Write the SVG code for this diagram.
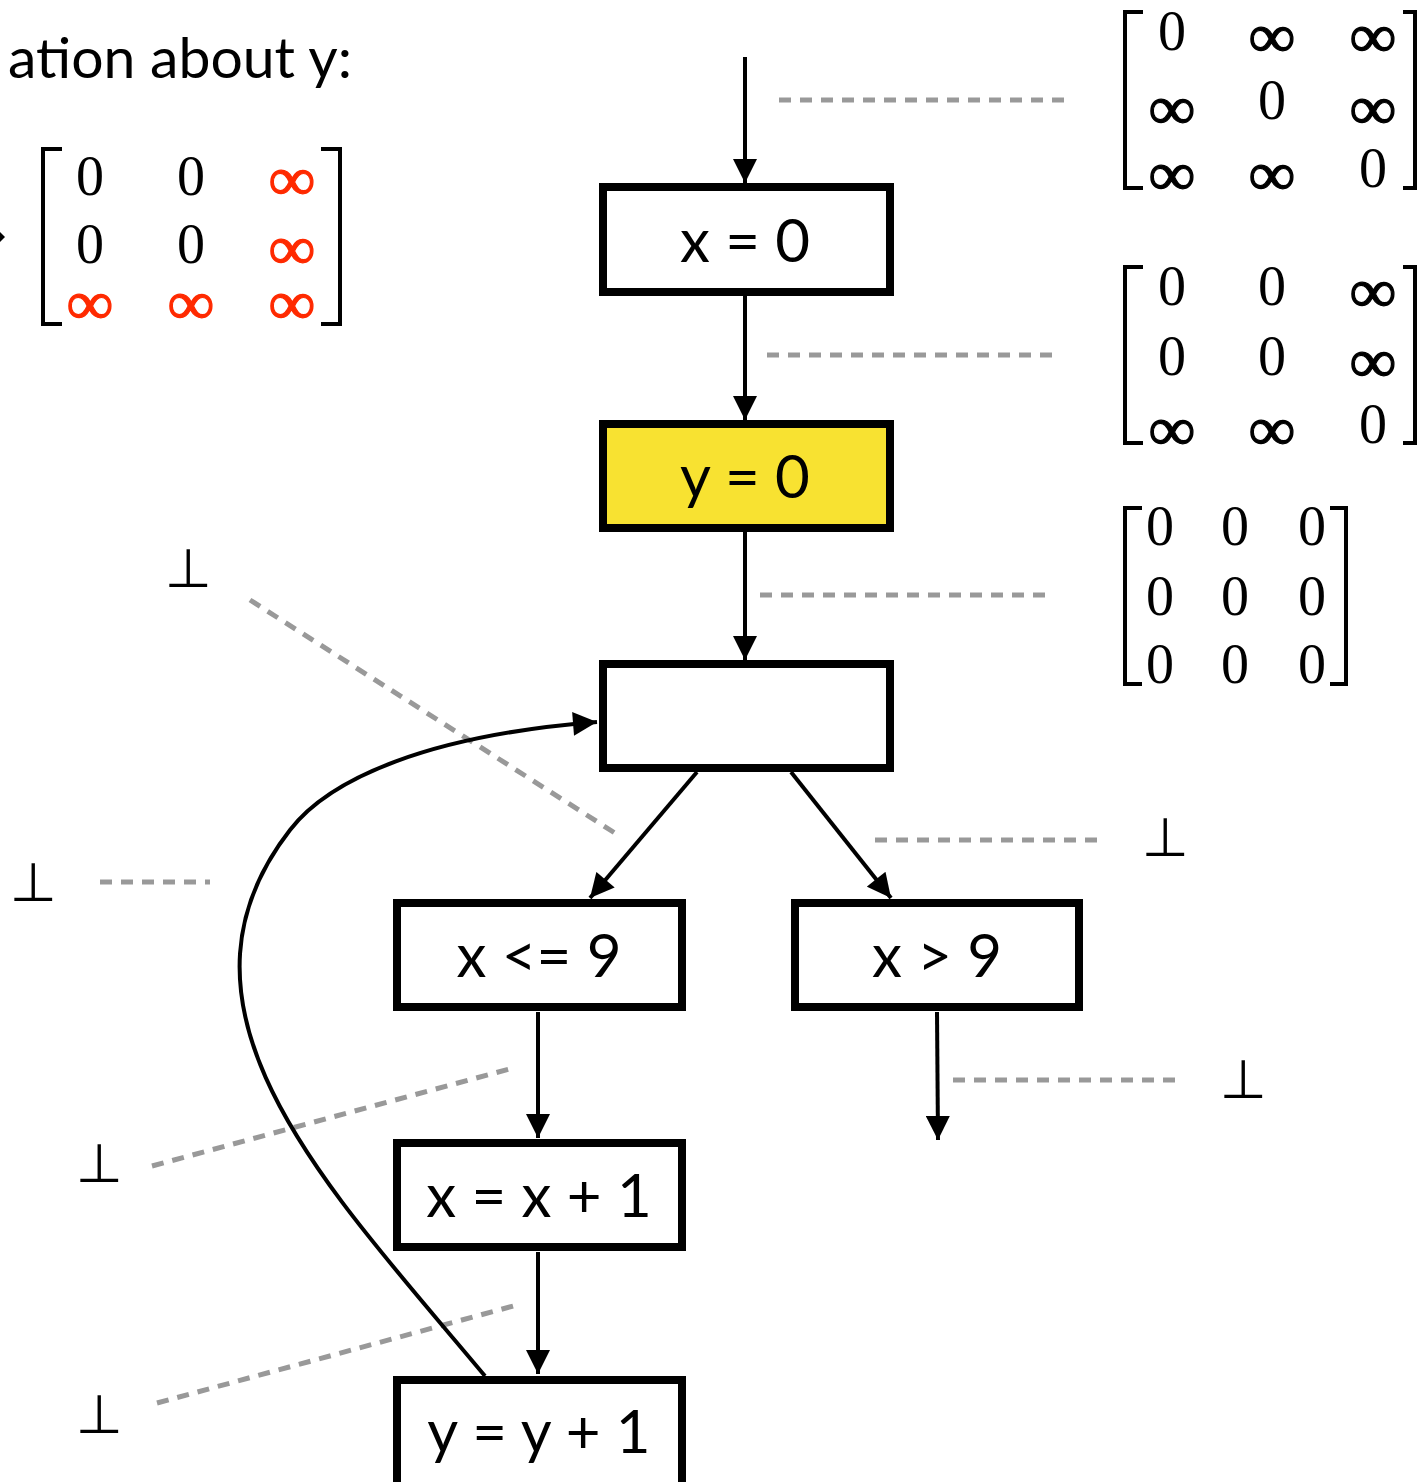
<svg xmlns="http://www.w3.org/2000/svg" width="1417" height="1482" viewBox="0 0 1417 1482">
<style>
.node{fill:#fff;stroke:#000;stroke-width:8}
.lbl{font-family:Lato,"Liberation Sans",sans-serif;font-size:60px;text-anchor:middle;fill:#000}
.edge{fill:none;stroke:#000;stroke-width:4}
.dash{fill:none;stroke:#999;stroke-width:5;stroke-dasharray:12 9}
.mx{font-family:"Liberation Serif","DejaVu Serif",serif;font-size:56px;text-anchor:middle;fill:#000}
.inf{font-family:"Liberation Serif","DejaVu Serif",serif;font-size:62px;text-anchor:middle;fill:#000;stroke:#000;stroke-width:1.2}
.red{fill:#FF2A00;stroke:#FF2A00}
.br{fill:none;stroke:#000;stroke-width:4}
.bot{font-family:"DejaVu Sans",sans-serif;font-size:54px;text-anchor:middle;fill:#000}
</style>
<defs>
<marker id="ah" viewBox="0 0 10 10" refX="10" refY="5" markerWidth="6.5" markerHeight="6" markerUnits="strokeWidth" orient="auto">
<path d="M0,0 L10,5 L0,10 z" fill="#000"/>
</marker>
</defs>

<text x="352" y="78" font-family="Lato,'Liberation Sans',sans-serif" font-size="56" text-anchor="end" textLength="344" lengthAdjust="spacingAndGlyphs">ation about y:</text>
<polygon points="0,232 5,237 0,242" fill="#000"/>

<g id="matrix-left">
<polyline class="br" points="62,149 43,149 43,324 62,324"/>
<polyline class="br" points="321,149 340,149 340,324 321,324"/>
<text class="mx" x="90" y="195">0</text>
<text class="mx" x="191" y="195">0</text>
<text class="inf red" x="292" y="200" textLength="47" lengthAdjust="spacingAndGlyphs">∞</text>
<text class="mx" x="90" y="263">0</text>
<text class="mx" x="191" y="263">0</text>
<text class="inf red" x="292" y="269" textLength="47" lengthAdjust="spacingAndGlyphs">∞</text>
<text class="inf red" x="90" y="324" textLength="47" lengthAdjust="spacingAndGlyphs">∞</text>
<text class="inf red" x="191" y="324" textLength="47" lengthAdjust="spacingAndGlyphs">∞</text>
<text class="inf red" x="292" y="324" textLength="47" lengthAdjust="spacingAndGlyphs">∞</text>
</g>

<g id="matrix-1">
<polyline class="br" points="1143,12 1125,12 1125,188 1143,188"/>
<polyline class="br" points="1403,12 1415,12 1415,188 1403,188"/>
<text class="mx" x="1172" y="50">0</text>
<text class="inf" x="1272" y="57" textLength="47" lengthAdjust="spacingAndGlyphs">∞</text>
<text class="inf" x="1373" y="57" textLength="47" lengthAdjust="spacingAndGlyphs">∞</text>
<text class="inf" x="1172" y="129" textLength="47" lengthAdjust="spacingAndGlyphs">∞</text>
<text class="mx" x="1272" y="119">0</text>
<text class="inf" x="1373" y="129" textLength="47" lengthAdjust="spacingAndGlyphs">∞</text>
<text class="inf" x="1172" y="195" textLength="47" lengthAdjust="spacingAndGlyphs">∞</text>
<text class="inf" x="1272" y="195" textLength="47" lengthAdjust="spacingAndGlyphs">∞</text>
<text class="mx" x="1373" y="187">0</text>
</g>

<g id="matrix-2">
<polyline class="br" points="1143,267 1125,267 1125,443 1143,443"/>
<polyline class="br" points="1403,267 1415,267 1415,443 1403,443"/>
<text class="mx" x="1172" y="305">0</text>
<text class="mx" x="1272" y="305">0</text>
<text class="inf" x="1373" y="312" textLength="47" lengthAdjust="spacingAndGlyphs">∞</text>
<text class="mx" x="1172" y="375">0</text>
<text class="mx" x="1272" y="375">0</text>
<text class="inf" x="1373" y="382" textLength="47" lengthAdjust="spacingAndGlyphs">∞</text>
<text class="inf" x="1172" y="450" textLength="47" lengthAdjust="spacingAndGlyphs">∞</text>
<text class="inf" x="1272" y="450" textLength="47" lengthAdjust="spacingAndGlyphs">∞</text>
<text class="mx" x="1373" y="443">0</text>
</g>

<g id="matrix-3">
<polyline class="br" points="1142,508 1125,508 1125,684 1142,684"/>
<polyline class="br" points="1330,508 1346,508 1346,684 1330,684"/>
<text class="mx" x="1160" y="545">0</text>
<text class="mx" x="1235" y="545">0</text>
<text class="mx" x="1312" y="545">0</text>
<text class="mx" x="1160" y="615">0</text>
<text class="mx" x="1235" y="615">0</text>
<text class="mx" x="1312" y="615">0</text>
<text class="mx" x="1160" y="683">0</text>
<text class="mx" x="1235" y="683">0</text>
<text class="mx" x="1312" y="683">0</text>
</g>

<g id="bottoms">
<text class="bot" x="188" y="587">⊥</text>
<text class="bot" x="33" y="901">⊥</text>
<text class="bot" x="1165" y="856">⊥</text>
<text class="bot" x="1243" y="1098">⊥</text>
<text class="bot" x="99" y="1182">⊥</text>
<text class="bot" x="99" y="1433">⊥</text>
</g>

<g id="dashes">
<line class="dash" x1="779" y1="100" x2="1068" y2="100"/>
<line class="dash" x1="767" y1="355" x2="1057" y2="355"/>
<line class="dash" x1="760" y1="595" x2="1050" y2="595"/>
<line class="dash" x1="250" y1="600" x2="618" y2="835"/>
<line class="dash" x1="875" y1="840" x2="1100" y2="840"/>
<line class="dash" x1="100" y1="882" x2="210" y2="882"/>
<line class="dash" x1="152" y1="1166" x2="513" y2="1068"/>
<line class="dash" x1="157" y1="1403" x2="517" y2="1305"/>
<line class="dash" x1="953" y1="1080" x2="1178" y2="1080"/>
</g>

<g id="connectors">
<line class="edge" x1="745" y1="57" x2="745" y2="183" marker-end="url(#ah)"/>
<line class="edge" x1="745" y1="296" x2="745" y2="420" marker-end="url(#ah)"/>
<line class="edge" x1="745" y1="532" x2="745" y2="660" marker-end="url(#ah)"/>
<line class="edge" x1="697" y1="772" x2="590" y2="898" marker-end="url(#ah)"/>
<line class="edge" x1="791" y1="772" x2="891" y2="898" marker-end="url(#ah)"/>
<line class="edge" x1="538" y1="1012" x2="538" y2="1138" marker-end="url(#ah)"/>
<line class="edge" x1="538" y1="1252" x2="538" y2="1374" marker-end="url(#ah)"/>
<line class="edge" x1="937" y1="1012" x2="938" y2="1140" marker-end="url(#ah)"/>
<path class="edge" d="M485,1376 C330,1190 150,1010 290,830 C330,778 430,735 597,722" marker-end="url(#ah)"/>
</g>

<g id="n-x0"><rect class="node" x="603" y="187" width="287" height="105"/><text class="lbl" x="745" y="262">x = 0</text></g>
<g id="n-y0"><rect class="node" x="603" y="424" width="287" height="104" style="fill:#F8E231"/><text class="lbl" x="745" y="498">y = 0</text></g>
<g id="n-join"><rect class="node" x="603" y="664" width="287" height="104"/></g>
<g id="n-le9"><rect class="node" x="397" y="903" width="285" height="104"/><text class="lbl" x="539" y="977">x &lt;= 9</text></g>
<g id="n-gt9"><rect class="node" x="795" y="903" width="284" height="104"/><text class="lbl" x="937" y="977">x &gt; 9</text></g>
<g id="n-xinc"><rect class="node" x="397" y="1143" width="285" height="104"/><text class="lbl" x="539" y="1217">x = x + 1</text></g>
<g id="n-yinc"><rect class="node" x="397" y="1380" width="285" height="110"/><text class="lbl" x="539" y="1453">y = y + 1</text></g>
</svg>
